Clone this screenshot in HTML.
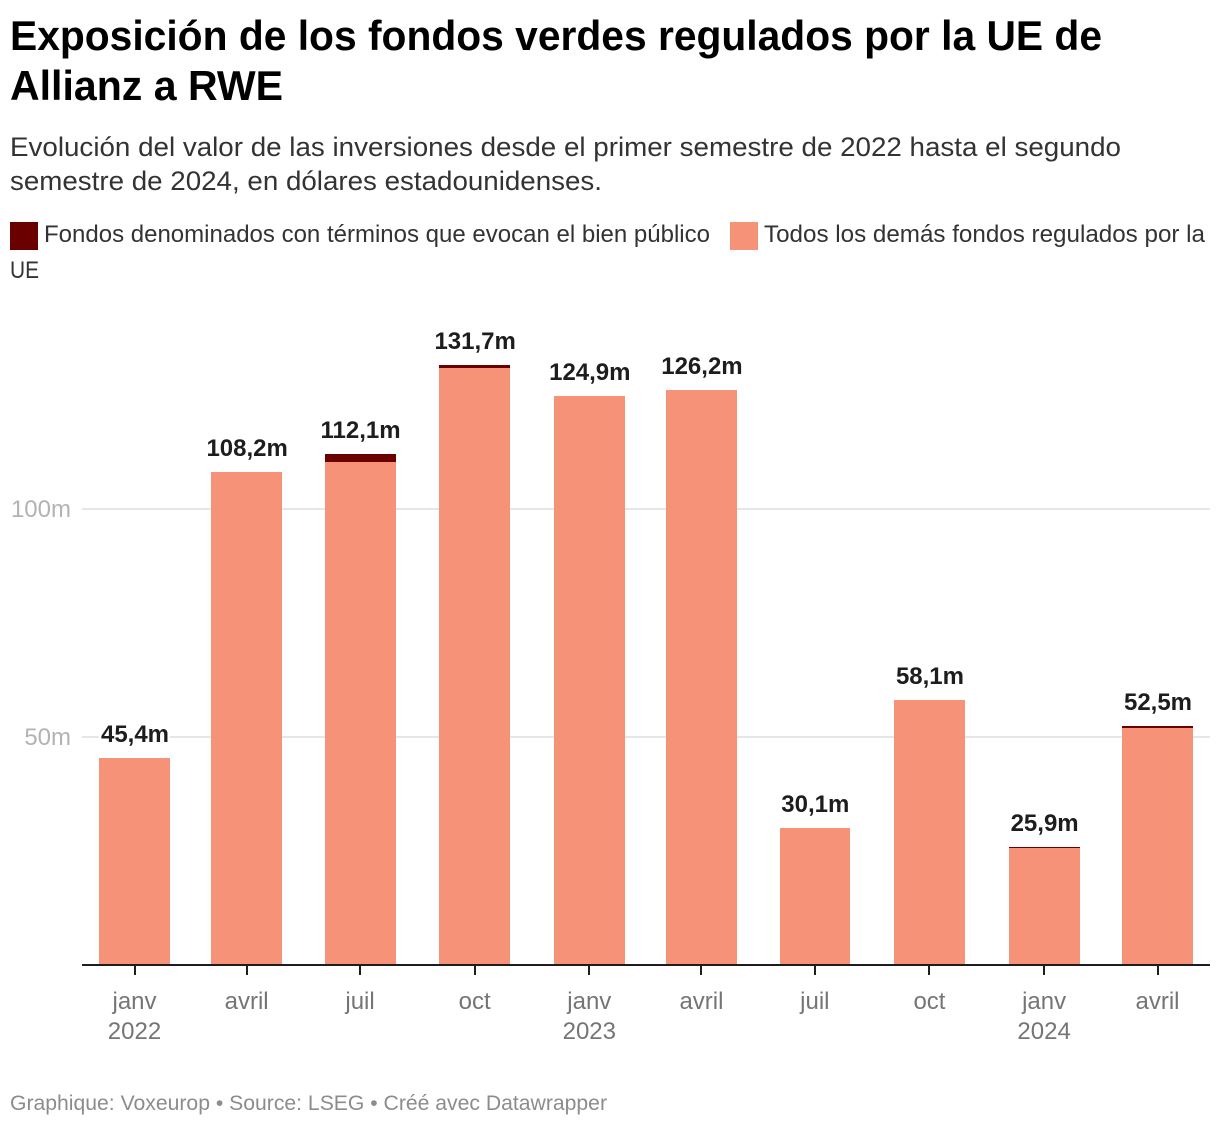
<!DOCTYPE html>
<html lang="es">
<head>
<meta charset="utf-8">
<title>Exposición de los fondos verdes regulados por la UE de Allianz a RWE</title>
<style>
  html, body { margin: 0; padding: 0; background: #fff; }
  body { width: 1220px; height: 1128px; overflow: hidden; }
  svg { display: block; font-family: "Liberation Sans", "DejaVu Sans", sans-serif; }
  .title { font-size: 42px; font-weight: 700; fill: #000; }
  .subtitle { font-size: 26.5px; fill: #333; }
  .legend-text { font-size: 24px; fill: #333; }
  .footer { font-size: 21.5px; fill: #8c8c8c; }
  .x-label { font-size: 24px; fill: #757575; text-anchor: middle; }
  .y-label { font-size: 24px; fill: #b3b3b3; text-anchor: end; }
  .value-label { font-size: 24px; font-weight: 700; fill: #1d1d1d; text-anchor: middle; stroke: #fff; stroke-width: 5px; paint-order: stroke; stroke-linejoin: round; }
</style>
</head>
<body>
<svg id="chart" width="1220" height="1128" viewBox="0 0 1220 1128" xmlns="http://www.w3.org/2000/svg">
  <text class="title" x="10" y="50" textLength="1092" lengthAdjust="spacingAndGlyphs">Exposición de los fondos verdes regulados por la UE de</text>
  <text class="title" x="10" y="100" textLength="273" lengthAdjust="spacingAndGlyphs">Allianz a RWE</text>
  <text class="subtitle" x="10" y="156" textLength="1111" lengthAdjust="spacingAndGlyphs">Evolución del valor de las inversiones desde el primer semestre de 2022 hasta el segundo</text>
  <text class="subtitle" x="10" y="190" textLength="592" lengthAdjust="spacingAndGlyphs">semestre de 2024, en dólares estadounidenses.</text>

  <rect x="10" y="222" width="28" height="28" fill="#6a0000"></rect>
  <text class="legend-text" x="44" y="242" textLength="666" lengthAdjust="spacingAndGlyphs">Fondos denominados con términos que evocan el bien público</text>
  <rect x="730" y="222" width="28" height="28" fill="#f59278"></rect>
  <text class="legend-text" x="764" y="242" textLength="441" lengthAdjust="spacingAndGlyphs">Todos los demás fondos regulados por la</text>
  <text class="legend-text" x="10" y="278" textLength="29" lengthAdjust="spacingAndGlyphs">UE</text>

  <g id="grid"></g>
  <g id="bars"></g>
  <g id="labels"></g>
  <g id="xaxis"></g>

  <text class="footer" x="10" y="1110" textLength="597" lengthAdjust="spacingAndGlyphs">Graphique: Voxeurop • Source: LSEG • Créé avec Datawrapper</text>
</svg>
<script>
const categories = ["2022-01-01","2022-04-01","2022-07-01","2022-10-01","2023-01-01","2023-04-01","2023-07-01","2023-10-01","2024-01-01","2024-04-01"];
const tickMonths = ["janv","avril","juil","oct","janv","avril","juil","oct","janv","avril"];
const tickYears = ["2022","","","","2023","","","","2024",""];
const publicGoodFunds = [0, 0, 1.8, 0.7, 0, 0, 0, 0, 0.2, 0.4];
const otherFunds = [45.4, 108.2, 110.3, 131.0, 124.9, 126.2, 30.1, 58.1, 25.7, 52.1];
const valueLabels = ["45,4m","108,2m","112,1m","131,7m","124,9m","126,2m","30,1m","58,1m","25,9m","52,5m"];
const yTickValues = [50, 100];
const yTickLabels = ["50m", "100m"];

const NS = "http://www.w3.org/2000/svg";
const plotLeft = 82, plotRight = 1210, barWidth = 71;
const firstTime = Date.parse(categories[0]);
const lastTime = Date.parse(categories[categories.length - 1]);

function xScale(dateString) {
  return 134.5 + (Date.parse(dateString) - firstTime) / (lastTime - firstTime) * 1023;
}
function yScale(value) {
  return 965 - value * 4.56;
}
function snapY(value) {
  return Math.round(yScale(value) + 0.1);
}
function make(tag, attrs, text) {
  const el = document.createElementNS(NS, tag);
  for (const k in attrs) el.setAttribute(k, attrs[k]);
  if (text !== undefined) el.textContent = text;
  return el;
}

const grid = document.getElementById("grid");
const bars = document.getElementById("bars");
const labels = document.getElementById("labels");
const xaxis = document.getElementById("xaxis");

yTickValues.forEach(function (v, i) {
  const line = make("line", { x1: plotLeft, x2: plotRight, y1: yScale(v), y2: yScale(v), stroke: "#e6e6e6", "stroke-width": 2 });
  
  
  grid.appendChild(line);
  const label = make("text", { class: "y-label", x: 71, y: yScale(v) + 8 }, yTickLabels[i]);
  
  
  grid.appendChild(label);
});

categories.forEach(function (c, i) {
  const cx = xScale(c);
  const left = Math.ceil(cx - barWidth / 2 - 0.3);
  const right = Math.round(cx + barWidth / 2);
  const otherTop = snapY(otherFunds[i]);
  const stackTop = snapY(otherFunds[i] + publicGoodFunds[i]);

  const other = make("rect", { x: left, y: otherTop, width: right - left, height: 965 - otherTop, fill: "#f59278" });
  
  
  bars.appendChild(other);

  if (publicGoodFunds[i] > 0) {
    const dark = make("rect", { x: left, y: stackTop, width: right - left, height: otherTop - stackTop, fill: "#6a0000" });
    
    
    bars.appendChild(dark);
  }

  const value = make("text", { class: "value-label", x: cx + 0.5, y: stackTop - 16 }, valueLabels[i]);
  
  
  labels.appendChild(value);

  const tickX = Math.round(cx);
  const tick = make("line", { x1: tickX, x2: tickX, y1: 965, y2: 975, stroke: "#1d1d1d", "stroke-width": 2 });
  
  
  xaxis.appendChild(tick);

  const month = make("text", { class: "x-label", x: cx, y: 1009 }, tickMonths[i]);
  
  
  xaxis.appendChild(month);

  if (tickYears[i]) {
    const year = make("text", { class: "x-label", x: cx, y: 1039 }, tickYears[i]);
    
    
    xaxis.appendChild(year);
  }
});

const axisLine = make("line", { x1: plotLeft, x2: plotRight, y1: 965, y2: 965, stroke: "#1d1d1d", "stroke-width": 2 });


xaxis.appendChild(axisLine);
</script>
</body>
</html>
